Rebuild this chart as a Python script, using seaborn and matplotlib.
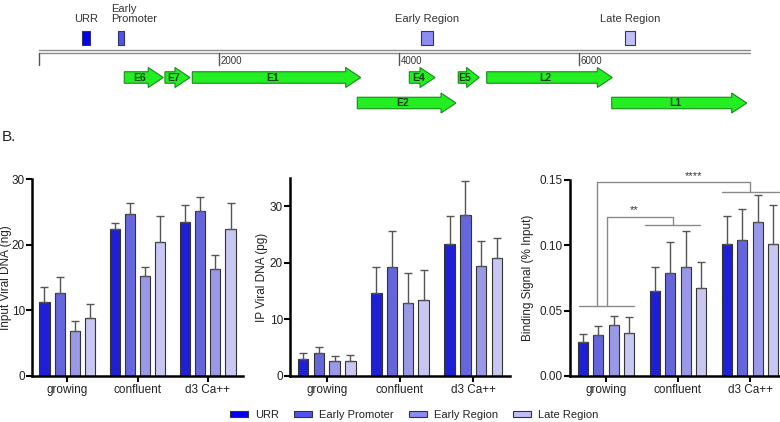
import numpy as np
import pandas as pd
import seaborn as sns
import matplotlib.pyplot as plt
from matplotlib.patches import FancyArrow, Rectangle, Patch

# ---- data ----
conditions = ["growing", "confluent", "d3 Ca++"]
regions = ["URR", "Early Promoter", "Early Region", "Late Region"]
colors = ["#0000F5", "#5252F0", "#8C8CF5", "#C0C0F8"]

# rows = conditions, cols = regions
input_dna = [[11.3, 12.7, 6.9, 8.9], [22.4, 24.6, 15.2, 20.4], [23.4, 25.1, 16.3, 22.4]]
input_err = [[2.2, 2.4, 1.5, 2.0], [0.9, 1.7, 1.4, 3.9], [2.6, 2.1, 2.1, 4.0]]
ip_dna = [[3.0, 4.0, 2.6, 2.6], [14.7, 19.2, 12.9, 13.4], [23.4, 28.5, 19.4, 20.8]]
ip_err = [[1.0, 1.15, 1.0, 1.1], [4.6, 6.5, 5.3, 5.4], [4.8, 5.9, 4.4, 3.6]]
binding = [[0.0263, 0.0316, 0.039, 0.0327], [0.065, 0.0788, 0.0834, 0.0673], [0.1013, 0.104, 0.1179, 0.1013]]
binding_err = [[0.0057, 0.0064, 0.007, 0.0127], [0.0184, 0.0238, 0.0276, 0.0199], [0.0214, 0.0236, 0.0209, 0.0293]]

# genome map (bp)
genome_len = 7900
map_ticks = [0, 2000, 4000, 6000]
genes = ["E6", "E7", "E1", "E2", "E4", "E5", "L2", "L1"]
gene_start = [953, 1405, 1709, 3542, 4120, 4664, 4980, 6369]
gene_end = [1386, 1683, 3580, 4639, 4406, 4897, 6376, 7869]
gene_row = [0, 0, 0, 1, 0, 0, 0, 1]
primer_start = [488, 886, 4250, 6518]
primer_end = [572, 952, 4386, 6626]
primer_labels = ["URR", "Early\nPromoter", "Early Region", "Late Region"]

sns.set_theme(style="ticks")
plt.rcParams['font.family'] = ['Liberation Sans', 'DejaVu Sans']

fig = plt.figure(figsize=(7.8, 4.22), dpi=100)

# ---- genome map (y in pixel-like units) ----
px = 0.09  # px per bp
mx = fig.add_axes([0, (422 - 120) / 422, 1, 120 / 422])
mx.set_xlim(-38.5 / px, (780 - 38.5) / px)
mx.set_ylim(120, 0)
mx.axis("off")
mx.plot([0, genome_len], [50, 50], color="#8a8a8a", lw=1)
mx.plot([0, genome_len], [52.5, 52.5], color="#8a8a8a", lw=1)
for t in map_ticks:
    mx.plot([t, t], [53, 65], color="#555555", lw=1)
    if t > 0:
        mx.text(t + 25, 61, str(t), fontsize=7, va="center", ha="left", color="#333333")

row_y = [77.5, 103]
head = 15 / px
for name, s, e, r in zip(genes, gene_start, gene_end, gene_row):
    y = row_y[r]
    mx.add_patch(FancyArrow(s, y, e - s, 0, width=11.5, head_width=20, head_length=min(head, (e - s) * 0.6),
                            length_includes_head=True, facecolor="#22EE22", edgecolor="#1a8a1a", lw=0.8))
    mx.text((s + e - head / 2) / 2, y + 0.5, name, fontsize=7.5, fontweight="bold", ha="center", va="center",
            color="#1c3a1c")

for i, (s, e, lab) in enumerate(zip(primer_start, primer_end, primer_labels)):
    mx.add_patch(Rectangle((s, 31), e - s, 14, facecolor=colors[i], edgecolor="#333366", lw=0.8))
    if i == 1:
        mx.text(s - 80, 24, lab, fontsize=8, ha="left", va="bottom", color="#333333", linespacing=0.95)
    else:
        mx.text((s + e) / 2, 24, lab, fontsize=8, ha="center", va="bottom", color="#333333")

fig.text(2 / 780, 1 - 137 / 422, "B.", fontsize=11, va="center", ha="left", color="#222222")

# ---- bar panels ----
panels = [
    (input_dna, input_err, "Input Viral DNA (ng)", [32, 211, 179], (0, 30), [0, 10, 20, 30], "{:.0f}", -0.097),
    (ip_dna, ip_err, "IP Viral DNA (pg)", [290, 220, 178], (0, 35), [0, 10, 20, 30], "{:.0f}", -0.1),
    (binding, binding_err, "Binding Signal (% Input)", [570, 216, 180], (0, 0.15), [0, 0.05, 0.10, 0.15], "{:.2f}", -0.168),
]
axes = []
for vals, errs, ylabel, (left, width, top), ylim, yticks, fmt, lx in panels:
    ax = fig.add_axes([left / 780, 46 / 422, width / 780, (376 - top) / 422])
    df = pd.DataFrame([(c, r, vals[i][j]) for i, c in enumerate(conditions) for j, r in enumerate(regions)],
                      columns=["condition", "region", "value"])
    sns.barplot(data=df, x="condition", y="value", hue="region", order=conditions, hue_order=regions,
                palette=colors, width=0.86, gap=0.33, errorbar=None, edgecolor="#333333", linewidth=0.8,
                legend=False, ax=ax)
    bar_sets = list(ax.containers)
    for j, cont in enumerate(bar_sets):
        for i, bar in enumerate(cont):
            x = bar.get_x() + bar.get_width() / 2
            ax.errorbar(x, bar.get_height(), yerr=[[0], [errs[i][j]]], color="#555555", lw=1,
                        capsize=3, capthick=1, zorder=1)
    ax.set_ylim(*ylim)
    ax.set_xlim(-0.5, 2.5)
    ax.set_yticks(yticks)
    ax.set_yticklabels([fmt.format(v) for v in yticks])
    ax.set_xlabel("")
    ax.set_ylabel(ylabel, fontsize=8.5, color="#222222")
    ax.yaxis.set_label_coords(lx, 0.5)
    sns.despine(ax=ax)
    for sp in ["left", "bottom"]:
        ax.spines[sp].set_linewidth(1.8)
        ax.spines[sp].set_color("black")
    ax.tick_params(axis="both", labelsize=8.5, width=1.5, length=4, color="black", labelcolor="#222222", pad=2)
    ax.tick_params(axis="y", pad=1)
    ax.set_facecolor("none")
    axes.append(ax)

# significance brackets on binding panel
ax = axes[2]
bk = dict(color="#8a8a8a", lw=1, clip_on=False)
ax.plot([-0.375, 0.395], [0.0538, 0.0538], **bk)
ax.plot([1 - 0.455, 1 + 0.30], [0.1156, 0.1156], **bk)
ax.plot([2 - 0.385, 2 + 0.40], [0.1408, 0.1408], **bk)
ax.plot([0.02, 0.02, 0.925, 0.925], [0.0538, 0.1217, 0.1217, 0.1156], **bk)
ax.plot([-0.13, -0.13, 2.0, 2.0], [0.0538, 0.1485, 0.1485, 0.1408], **bk)
ax.text(0.39, 0.1228, "**", ha="center", va="bottom", fontsize=8, color="#333333")
ax.text(1.21, 0.1492, "****", ha="center", va="bottom", fontsize=8, color="#333333", clip_on=False)

handles = [Patch(facecolor=c, edgecolor="#333333", lw=0.8, label=r) for c, r in zip(colors, regions)]
fig.legend(handles=handles, loc="center", bbox_to_anchor=(414 / 780, 7 / 422), ncol=4, frameon=False,
           fontsize=8, handlelength=1.62, handleheight=0.5, handletextpad=0.63, columnspacing=1.35,
           borderpad=0, labelcolor="#222222")

fig.savefig("out.png", dpi=100)
